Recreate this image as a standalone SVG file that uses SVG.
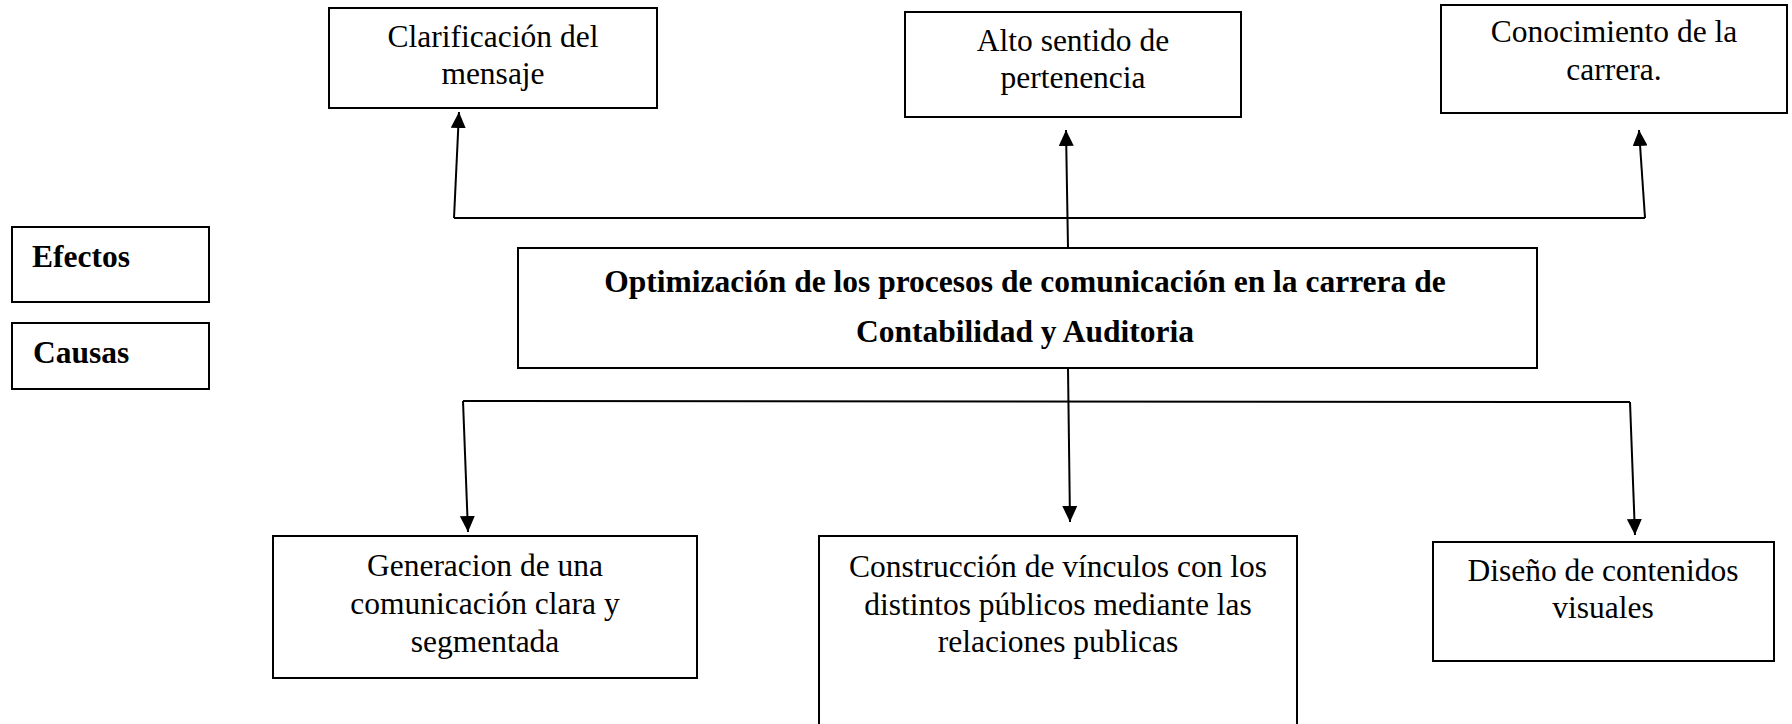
<svg xmlns="http://www.w3.org/2000/svg" width="1792" height="724" viewBox="0 0 1792 724">
<style>
.box{fill:#fff;stroke:#000;stroke-width:2}
.t{font-family:"Liberation Serif","Times New Roman",serif;font-size:31.5px;fill:#000;text-anchor:middle}
.b{font-family:"Liberation Serif","Times New Roman",serif;font-size:31.5px;font-weight:bold;fill:#000}
.c{stroke:#000;stroke-width:2;fill:none}
</style>
<defs>
<marker id="ah" viewBox="0 0 16 15" refX="16" refY="7.5" markerWidth="16" markerHeight="15" markerUnits="userSpaceOnUse" orient="auto">
<path d="M0,0 L16,7.5 L0,15 z" fill="#000"/>
</marker>
</defs>
<rect width="1792" height="724" fill="#fff"/>
<g id="connectors">
<line class="c" x1="454" y1="218" x2="1645" y2="218"/>
<line class="c" x1="454" y1="218" x2="459" y2="112" marker-end="url(#ah)"/>
<line class="c" x1="1068" y1="248" x2="1066" y2="130" marker-end="url(#ah)"/>
<line class="c" x1="1645" y1="218" x2="1639" y2="130" marker-end="url(#ah)"/>
<line class="c" x1="463" y1="401" x2="1630" y2="402"/>
<line class="c" x1="463" y1="401" x2="468" y2="532" marker-end="url(#ah)"/>
<line class="c" x1="1068" y1="368" x2="1070" y2="522" marker-end="url(#ah)"/>
<line class="c" x1="1630" y1="402" x2="1635" y2="535" marker-end="url(#ah)"/>
</g>
<g id="clarificacion">
<rect class="box" x="329" y="8" width="328" height="100"/>
<text class="t" x="493" y="47">Clarificación del</text>
<text class="t" x="493" y="84">mensaje</text>
</g>
<g id="alto">
<rect class="box" x="905" y="12" width="336" height="105"/>
<text class="t" x="1073" y="51">Alto sentido de</text>
<text class="t" x="1073" y="88">pertenencia</text>
</g>
<g id="conocimiento">
<rect class="box" x="1441" y="5" width="346" height="108"/>
<text class="t" x="1614" y="42">Conocimiento de la</text>
<text class="t" x="1614" y="80">carrera.</text>
</g>
<g id="efectos">
<rect class="box" x="12" y="227" width="197" height="75"/>
<text class="b" x="32" y="267">Efectos</text>
</g>
<g id="causas">
<rect class="box" x="12" y="323" width="197" height="66"/>
<text class="b" x="33" y="363">Causas</text>
</g>
<g id="central">
<rect class="box" x="518" y="248" width="1019" height="120"/>
<text class="b" x="1025" y="292" text-anchor="middle">Optimización de los procesos de comunicación en la carrera de</text>
<text class="b" x="1025" y="342" text-anchor="middle">Contabilidad y Auditoria</text>
</g>
<g id="generacion">
<rect class="box" x="273" y="536" width="424" height="142"/>
<text class="t" x="485" y="576">Generacion de una</text>
<text class="t" x="485" y="614">comunicación clara y</text>
<text class="t" x="485" y="652">segmentada</text>
</g>
<g id="construccion">
<rect class="box" x="819" y="536" width="478" height="200"/>
<text class="t" x="1058" y="577">Construcción de vínculos con los</text>
<text class="t" x="1058" y="615">distintos públicos mediante las</text>
<text class="t" x="1058" y="652">relaciones publicas</text>
</g>
<g id="diseno">
<rect class="box" x="1433" y="542" width="341" height="119"/>
<text class="t" x="1603" y="581">Diseño de contenidos</text>
<text class="t" x="1603" y="618">visuales</text>
</g>
</svg>
